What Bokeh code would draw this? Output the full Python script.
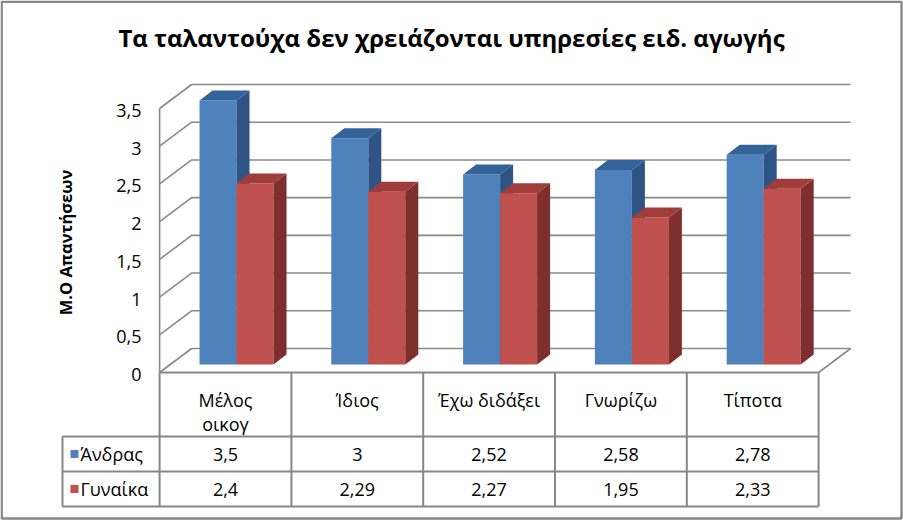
from bokeh.plotting import figure
from bokeh.models import Range1d, Label
from bokeh.core.properties import value
from bokeh.embed import file_html
from bokeh.resources import INLINE
import math

# ---------------- data ----------------
title_text = "Τα ταλαντούχα δεν χρειάζονται υπηρεσίες ειδ. αγωγής"
y_axis_title = "Μ.Ο Απαντήσεων"
categories = ["Μέλος\nοικογ", "Ίδιος", "Έχω διδάξει", "Γνωρίζω", "Τίποτα"]
series_names = ["Άνδρας", "Γυναίκα"]
andras = [3.5, 3.0, 2.52, 2.58, 2.78]
gynaika = [2.4, 2.29, 2.27, 1.95, 2.33]
y_ticks = [0, 0.5, 1, 1.5, 2, 2.5, 3, 3.5]
y_tick_labels = ["0", "0,5", "1", "1,5", "2", "2,5", "3", "3,5"]

# ---------------- layout / style ----------------
W, H = 903, 520
PX_PER_CAT = 131.8
CAT0_PX = 225.0
PX_PER_UNIT = 75.43
ZERO_PX = 372.0

def dx(px):
    return (px - CAT0_PX) / PX_PER_CAT

def dy(py):
    return (ZERO_PX - py) / PX_PER_UNIT

FONT = "Open Sans"
GRID_COLOR = "#8a8a8a"
TABLE_COLOR = "#878787"
FRONT = ["#4F81BD", "#C0504D"]
TOP = ["#34639A", "#A03C39"]
SIDE = ["#2D5485", "#7E2F2D"]

DEPTH_X = 32 / PX_PER_CAT
DEPTH_Y = 24 / PX_PER_UNIT
BAR_W = 37 / PX_PER_CAT
BAR_OFF = -26 / PX_PER_CAT
BASE = 8 / PX_PER_UNIT
BDX = 13 / PX_PER_CAT
BDY = 10 / PX_PER_UNIT

n = len(categories)
XL = -0.5
XR = n - 0.5
YMAX = y_ticks[-1]

p = figure(width=W, height=H, output_backend="svg", toolbar_location=None,
           x_range=Range1d(dx(0), dx(W)), y_range=Range1d(dy(H), dy(0)),
           x_axis_type=None, y_axis_type=None, min_border=0,
           background_fill_color="white", border_fill_color="white")
p.outline_line_color = None
p.grid.visible = False

# ---------------- walls & gridlines ----------------
gx, gy = [], []
for v in y_ticks:
    gx.append([XL, XL + DEPTH_X, XR + DEPTH_X])
    gy.append([v, v + DEPTH_Y, v + DEPTH_Y])
gx.append([XL, XL]); gy.append([0, YMAX])
gx.append([XR, XR + DEPTH_X]); gy.append([0, DEPTH_Y])
p.multi_line(gx, gy, line_color=GRID_COLOR, line_width=1.6)

# ---------------- 3D bars ----------------
for s, vals in enumerate([andras, gynaika]):
    lefts = [i + BAR_OFF + s * BAR_W for i in range(n)]
    rights = [l + BAR_W for l in lefts]
    tops = [v + BASE for v in vals]
    p.quad(left=lefts, right=rights, bottom=[BASE] * n, top=tops,
           fill_color=FRONT[s], line_color=None)
    side_x = [[r, r + BDX, r + BDX, r] for r in rights]
    side_y = [[BASE, BASE + BDY, t + BDY, t] for t in tops]
    p.patches(side_x, side_y, fill_color=SIDE[s], line_color=None)
    top_x = [[l, r, r + BDX, l + BDX] for l, r in zip(lefts, rights)]
    top_y = [[t, t, t + BDY, t + BDY] for t in tops]
    p.patches(top_x, top_y, fill_color=TOP[s], line_color=None)

TXT = dict(text_font=value(FONT), text_font_size="18px", text_color="#000000")

# ---------------- y tick labels ----------------
p.text(x=[dx(141)] * len(y_ticks), y=y_ticks, text=y_tick_labels,
       text_align="right", text_baseline="middle", y_offset=2, **TXT)

# ---------------- data table ----------------
y_hdr = dy(436)
y_r1 = dy(471)
y_r2 = dy(506)
XLEG = dx(62)
tx, ty = [], []
tx.append([XL, XR]); ty.append([0, 0])
for yy in (y_hdr, y_r1, y_r2):
    tx.append([XLEG, XR]); ty.append([yy, yy])
for i in range(n + 1):
    tx.append([i - 0.5, i - 0.5]); ty.append([0, y_r2])
tx.append([XLEG, XLEG]); ty.append([y_hdr, y_r2])
p.multi_line(tx, ty, line_color=TABLE_COLOR, line_width=2)

lx, ly, lt = [], [], []
for i, c in enumerate(categories):
    for k, line in enumerate(c.split("\n")):
        lx.append(i)
        ly.append(dy(399 + 24 * k))
        lt.append(line)
p.text(x=lx, y=ly, text=lt, text_align="center", text_baseline="middle", **TXT)

def fmt(v):
    return format(v, "g").replace(".", ",")

for vals, yc in ((andras, (y_hdr + y_r1) / 2), (gynaika, (y_r1 + y_r2) / 2)):
    p.text(x=list(range(n)), y=[yc] * n, text=[fmt(v) for v in vals],
           text_align="center", text_baseline="middle", **TXT)

leg_y = [(y_hdr + y_r1) / 2, (y_r1 + y_r2) / 2]
p.scatter(x=[dx(74)] * 2, y=leg_y, marker="square", size=8,
          fill_color=FRONT, line_color=None)
p.text(x=[dx(80)] * 2, y=leg_y, text=series_names,
       text_align="left", text_baseline="middle", **TXT)

# ---------------- titles ----------------
p.add_layout(Label(x=dx(451), y=dy(37), text=title_text,
                   text_font=FONT, text_font_size="24px", text_font_style="bold",
                   text_align="center", text_baseline="middle", text_color="#000000"))
p.add_layout(Label(x=dx(65), y=dy(242), text=y_axis_title, angle=math.pi / 2,
                   text_font=FONT, text_font_size="16.5px", text_font_style="bold",
                   text_align="center", text_baseline="middle", text_color="#000000"))

# ---------------- outer border ----------------
p.quad(left=[dx(1.2)], right=[dx(901)], bottom=[dy(518)], top=[dy(1.2)],
       fill_color=None, line_color="#888888", line_width=2.4)

open("out.html", "w").write(file_html(p, INLINE))
